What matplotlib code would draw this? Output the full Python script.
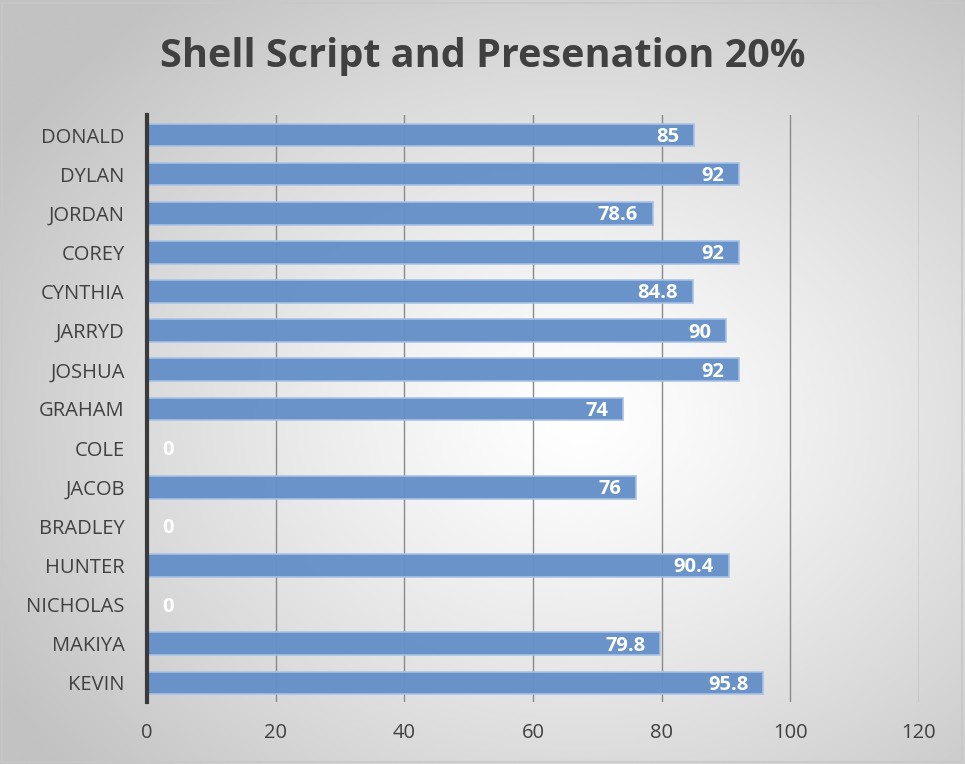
import matplotlib.pyplot as plt
import numpy as np

names = ["DONALD", "DYLAN", "JORDAN", "COREY", "CYNTHIA", "JARRYD", "JOSHUA",
         "GRAHAM", "COLE", "JACOB", "BRADLEY", "HUNTER", "NICHOLAS", "MAKIYA", "KEVIN"]
scores = [85, 92, 78.6, 92, 84.8, 90, 92, 74, 0, 76, 0, 90.4, 0, 79.8, 95.8]
labels = ["85", "92", "78.6", "92", "84.8", "90", "92", "74", "0", "76", "0",
          "90.4", "0", "79.8", "95.8"]
xticks = [0, 20, 40, 60, 80, 100, 120]

plt.rcParams['font.family'] = ['Open Sans', 'DejaVu Sans']

fig = plt.figure(figsize=(9.65, 7.64), dpi=100)

# radial gradient background
bg = fig.add_axes([0, 0, 1, 1], zorder=-10)
yy, xx = np.mgrid[-1:1:300j, -1:1:380j]
r = np.sqrt((xx - 0.2) ** 2 + (yy - 0.1) ** 2)
shade = 1.0 - 0.24 * np.clip(r / 1.4, 0, 1) ** 1.2
bg.imshow(shade, cmap='gray', vmin=0, vmax=1, aspect='auto',
          extent=[0, 1, 0, 1], interpolation='bicubic')
bg.add_patch(plt.Rectangle((0.002, 0.002), 0.995, 0.994, fill=False,
                           edgecolor='#c8c8c8', lw=1.2, transform=bg.transAxes))
bg.set_axis_off()

ax = fig.add_axes([0.1523, 0.0806, 0.8, 0.7683])
ax.patch.set_alpha(0)
y = np.arange(len(names))
ax.barh(y, scores, height=0.58, color='#6590c8', edgecolor='#a8c2e6',
        linewidth=1.2, zorder=3, alpha=0.97)
for yi, v, t in zip(y, scores, labels):
    if v == 0:
        ax.text(2.3, yi + 0.05, t, ha='left', va='center', color='white',
                fontsize=14.5, fontweight='bold', zorder=4)
    else:
        ax.text(v - 2.3, yi + 0.05, t, ha='right', va='center', color='white',
                fontsize=14.5, fontweight='bold', zorder=4)

ax.set_xlim(0, 120)
ax.set_ylim(len(names) - 0.5, -0.5)
ax.set_xticks(xticks)
ax.set_yticks(y)
ax.set_yticklabels(names)
ax.tick_params(axis='both', length=0, labelsize=14.5, labelcolor='#404040')
ax.tick_params(axis='x', pad=15)
ax.tick_params(axis='y', pad=16)
ax.grid(axis='x', color='#8a8a8a', lw=1.0, zorder=1)
for s in ['top', 'right', 'bottom']:
    ax.spines[s].set_visible(False)
ax.spines['left'].set_color('#3a3a3a')
ax.spines['left'].set_linewidth(3)
ax.spines['left'].set_zorder(5)

fig.text(0.5, 0.926, "Shell Script and Presenation 20%", ha='center', va='center',
         fontsize=28.5, fontweight='bold', color='#404040')

fig.savefig('out.png', dpi=100)
